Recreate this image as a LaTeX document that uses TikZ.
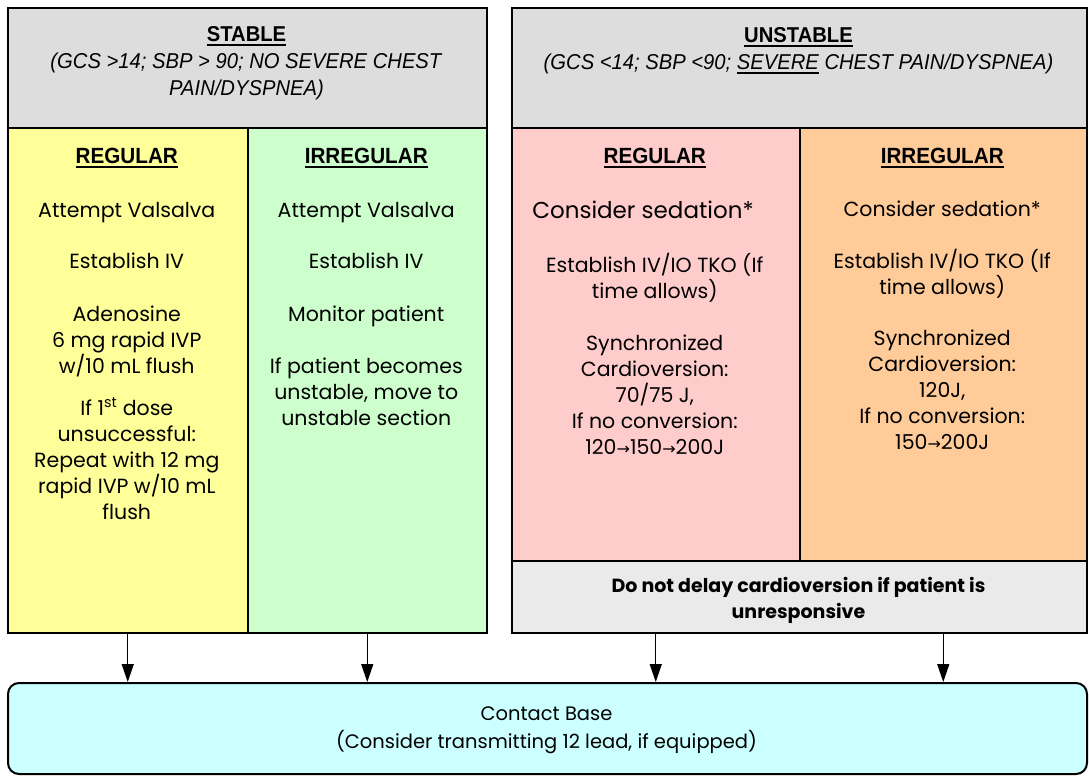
\documentclass[tikz,border=0pt]{standalone}
\usepackage{fontspec}
\setmainfont{Poppins}
\newfontfamily\hdfont{Liberation Sans}[FakeStretch=0.94]
\newfontfamily\symfont{DejaVu Sans}
\usetikzlibrary{arrows.meta}
\usetikzlibrary{positioning}
\definecolor{hdgrey}{RGB}{221,221,221}
\definecolor{ftgrey}{RGB}{234,234,234}
\definecolor{cyellow}{RGB}{255,255,153}
\definecolor{cgreen}{RGB}{204,255,204}
\definecolor{cpink}{RGB}{255,204,204}
\definecolor{corange}{RGB}{255,204,153}
\definecolor{ccyan}{RGB}{204,255,255}
\newcommand{\ulword}[1]{\setbox0\hbox{#1}\leavevmode\rlap{\vrule height -2.5pt depth 4.5pt width \wd0}\box0\relax}
\newcommand{\sarrow}{{\symfont\fontsize{16}{16}\selectfont →}}
\tikzset{cell/.style = {draw, line width = 2pt, anchor = north west, inner sep = 0}}
\tikzset{body/.style = {anchor = base, align = center, inner sep = 0, font = \fontsize{20.5}{26}\selectfont}}
\tikzset{colhead/.style = {anchor = base, inner sep = 0, font = \hdfont\bfseries\fontsize{22}{26}\selectfont}}
\tikzset{hdtext/.style = {anchor = base, align = center, inner sep = 0, font = \hdfont\fontsize{21.5}{27}\selectfont}}
\tikzset{flow/.style = {-{Triangle[length = 18pt, width = 12pt]}, line width = 1.4pt}}

\begin{document}
\begin{tikzpicture}[x = 1pt, y = -1pt]
    \useasboundingbox (0, 0) rectangle (1089, 776);

    \node [cell, fill = hdgrey, minimum width = 479pt, minimum height = 120pt] (stab) at (7, 7) {};
    \node [cell, fill = cyellow, minimum width = 239.5pt, minimum height = 505pt] (sreg) at (7, 127) {};
    \node [cell, fill = cgreen, minimum width = 239.5pt, minimum height = 505pt] (sirr) at (246.5, 127) {};

    \node [cell, fill = hdgrey, minimum width = 575pt, minimum height = 120pt] (unst) at (511, 7) {};
    \node [cell, fill = cpink, minimum width = 287.5pt, minimum height = 433pt] (ureg) at (511, 127) {};
    \node [cell, fill = corange, minimum width = 287.5pt, minimum height = 433pt] (uirr) at (798.5, 127) {};
    \node [cell, fill = ftgrey, minimum width = 575pt, minimum height = 72pt] (ufoot) at (511, 560) {};

    \node [cell, fill = ccyan, rounded corners = 11pt, minimum width = 1079pt, minimum height = 91pt] (base) at (7, 682) {};

    \node [hdtext] (stabtxt) at (246.5, 95) {\textbf{\ulword{STABLE}}\\\textit{(GCS >14; SBP > 90; NO SEVERE CHEST}\\\textit{PAIN/DYSPNEA)}};
    \node [hdtext] (unsttxt) at (798.5, 70) {\textbf{\ulword{UNSTABLE}}\\\textit{(GCS <14; SBP <90; \ulword{SEVERE} CHEST PAIN/DYSPNEA)}};

    \node [colhead] (sreghd) at (126.75, 163) {\ulword{REGULAR}};
    \node [colhead] (sirrhd) at (366.25, 163) {\ulword{IRREGULAR}};
    \node [colhead] (ureghd) at (654.75, 163) {\ulword{REGULAR}};
    \node [colhead] (uirrhd) at (942.25, 163) {\ulword{IRREGULAR}};

    \node [body] (sreg1) at (126.75, 217) {Attempt Valsalva};
    \node [body] (sreg2) at (126.75, 268) {Establish IV};
    \node [body] (sreg3) at (126.75, 373) {Adenosine\\6 mg rapid IVP\\w/10 mL flush};
    \node [body] (sreg4) at (126.75, 519) {If 1\textsuperscript{st} dose\\unsuccessful:\\Repeat with 12 mg\\rapid IVP w/10 mL\\flush};

    \node [body] (sirr1) at (366.25, 217) {Attempt Valsalva};
    \node [body] (sirr2) at (366.25, 268) {Establish IV};
    \node [body] (sirr3) at (366.25, 321) {Monitor patient};
    \node [body] (sirr4) at (366.25, 425) {If patient becomes\\unstable, move to\\unstable section};

    \node [body, font = \fontsize{23}{26}\selectfont] (ureg1) at (643, 218) {Consider sedation*};
    \node [body] (ureg2) at (654.75, 298) {Establish IV/IO TKO (If\\time allows)};
    \node [body] (ureg3) at (654.75, 454) {Synchronized\\Cardioversion:\\70/75 J,\\If no conversion:\\120\sarrow150\sarrow200J};

    \node [body] (uirr1) at (942.25, 216) {Consider sedation*};
    \node [body] (uirr2) at (942.25, 294) {Establish IV/IO TKO (If\\time allows)};
    \node [body] (uirr3) at (942.25, 449) {Synchronized\\Cardioversion:\\120J,\\If no conversion:\\150\sarrow200J};

    \node [body, font = \bfseries\fontsize{19}{26}\selectfont] (foottxt) at (798.5, 618) {Do not delay cardioversion if patient is\\unresponsive};
    \node [body, font = \fontsize{19.5}{28}\selectfont] (basetxt) at (546.5, 748) {Contact Base\\(Consider transmitting 12 lead, if equipped)};

    \draw [flow] (sreg.south) -- (sreg.south |- base.north);
    \draw [flow] (sirr.south) -- (sirr.south |- base.north);
    \draw [flow] (ureg.south |- ufoot.south) -- (ureg.south |- base.north);
    \draw [flow] (uirr.south |- ufoot.south) -- (uirr.south |- base.north);
\end{tikzpicture}
\end{document}
